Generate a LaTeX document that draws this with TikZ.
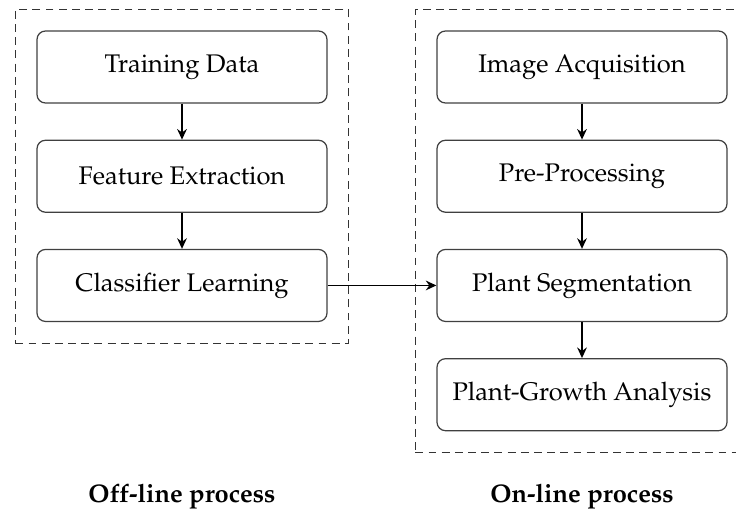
\documentclass[tikz,border=0pt]{standalone}
\usepackage[T1]{fontenc}
\usepackage{mathpazo}
\usetikzlibrary{positioning,fit,arrows.meta}

\tikzstyle{proc}=[rectangle, rounded corners=0.17cm, draw=black!75, line width=0.7pt,
  minimum width=5.8cm, minimum height=1.44cm, inner sep=0pt,
  font=\fontsize{14.5}{17}\selectfont]
\tikzstyle{flow}=[-{Stealth[length=6pt,width=5.5pt]}, line width=1pt]
\tikzstyle{group}=[draw=black!80, line width=0.6pt, dash pattern=on 4.5pt off 3pt, inner sep=0.42cm]
\tikzstyle{lbl}=[font=\fontsize{14.5}{17}\selectfont\bfseries]

\begin{document}
\begin{tikzpicture}[node distance=0.72cm]

\useasboundingbox (0,0) rectangle (14.72,-10.34);
\clip (0,0) rectangle (14.72,-10.34);

% off-line side
\node[proc] (train) at (3.64,-1.34) {Training Data};
\node[proc, below=of train] (feat) {Feature Extraction};
\node[proc, below=of feat] (clf) {Classifier Learning};

% on-line side
\node[proc] (acq) at (11.64,-1.34) {Image Acquisition};
\node[proc, below=of acq] (pre) {Pre-Processing};
\node[proc, below=of pre] (seg) {Plant Segmentation};
\node[proc, below=of seg] (growth) {Plant-Growth Analysis};

\node[group, fit=(train)(clf)] (offbox) {};
\node[group, fit=(acq)(growth)] (onbox) {};

\draw[flow] (train) -- (feat);
\draw[flow] (feat) -- (clf);
\draw[flow] (acq) -- (pre);
\draw[flow] (pre) -- (seg);
\draw[flow] (seg) -- (growth);
\draw[flow] (clf) -- (seg);

\node[lbl] (offlbl) at (3.64,-9.94) {Off-line process};
\node[lbl] (onlbl) at (11.64,-9.94) {On-line process};

\end{tikzpicture}
\end{document}
